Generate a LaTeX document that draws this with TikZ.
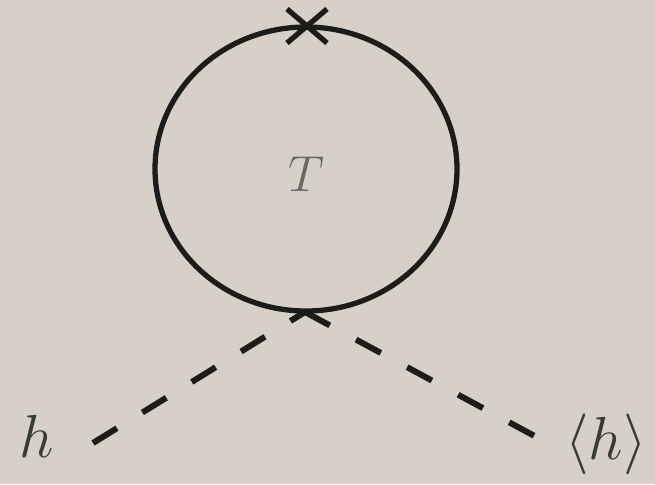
\documentclass[tikz,border=0pt]{standalone}
\usepackage{amsmath, amssymb}
\usepackage{xcolor}
\usetikzlibrary{positioning}

\definecolor{paper}{RGB}{214,208,201}
\definecolor{ink}{RGB}{28,28,26}
\definecolor{labelink}{RGB}{55,60,50}
\definecolor{softink}{RGB}{105,105,102}

\tikzset{
    prop/.style={ink, line width=1.5pt},
    scalar/.style={ink, line width=1.7pt, dash pattern=on 8pt off 8.5pt},
    leg/.style={labelink, font=\fontsize{19}{23}\selectfont},
}

\begin{document}
\begin{tikzpicture}[x=0.01cm, y=-0.01cm]
    \fill[paper] (0,0) rectangle (655,484);
    \useasboundingbox (0,0) rectangle (655,484);

    % Loop
    \coordinate (loop_center) at (306,169);
    \coordinate (vertex) at (305,312);
    \draw[prop] (loop_center) ellipse [x radius=151, y radius=142];
    \node[softink, font=\fontsize{14.5}{17}\selectfont] (T) at (306,174) {$T$};

    % Insertion on the loop
    \coordinate (ins) at (307,26);
    \draw[prop, shift={(ins)}] (-20,-17) -- (20,17);
    \draw[prop, shift={(ins)}] (-20,17) -- (20,-17);

    % External legs
    \node[leg] (h) at (37,436) {$h$};
    \node[leg] (vev) at (606,444) {$\langle h\rangle$};
    \coordinate (h_end) at (93,443);
    \coordinate (vev_end) at (542,440);
    \draw[scalar] (h_end) -- (vertex);
    \draw[scalar] (vertex) -- (vev_end);
\end{tikzpicture}
\end{document}
